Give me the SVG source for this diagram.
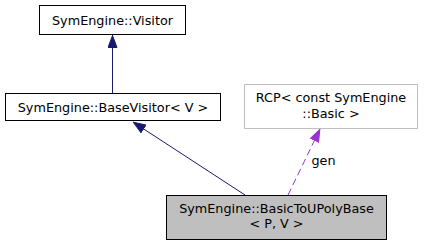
<svg xmlns="http://www.w3.org/2000/svg" width="424" height="246" viewBox="0 0 424 246">
  <style>
    .box { fill: #ffffff; stroke: #000000; stroke-width: 1; }
    .ext { fill: #ffffff; stroke: #bfbfbf; stroke-width: 1; }
    .cur { fill: #bfbfbf; stroke: #000000; stroke-width: 1; }
    text { font-family: "DejaVu Sans", "Noto Sans", sans-serif; font-size: 12.8px; fill: #000000; text-anchor: middle; }
    .inh { stroke: #191970; stroke-width: 1; fill: none; }
    .use { stroke: #9a32cd; stroke-width: 1; fill: none; stroke-dasharray: 7,4; }
  </style>
  <defs>
    <marker id="headInh" markerWidth="13" markerHeight="10" refX="13" refY="5" orient="auto" markerUnits="userSpaceOnUse" viewBox="0 0 13 10">
      <path d="M0.5,0.5 L12.5,5 L0.5,9.5 Z" fill="#191970" stroke="#191970"/>
    </marker>
    <marker id="headUse" markerWidth="13" markerHeight="10" refX="13" refY="5" orient="auto" markerUnits="userSpaceOnUse" viewBox="0 0 13 10">
      <path d="M0.5,0.5 L12.5,5 L0.5,9.5 Z" fill="#9a32cd" stroke="#9a32cd"/>
    </marker>
  </defs>

  <g id="connectors">
    <line class="inh" x1="112.5" y1="93" x2="112.5" y2="35" marker-end="url(#headInh)"/>
    <line class="inh" x1="245" y1="195" x2="133" y2="122" marker-end="url(#headInh)"/>
    <line class="use" x1="288" y1="195" x2="320" y2="129" marker-end="url(#headUse)"/>
    <text x="323.5" y="165">gen</text>
  </g>

  <g id="node-visitor">
    <rect class="box" x="39.5" y="5.5" width="146" height="29"/>
    <text x="112.5" y="24.5">SymEngine::Visitor</text>
  </g>

  <g id="node-basevisitor">
    <rect class="box" x="5.5" y="93.5" width="215" height="27"/>
    <text x="113" y="111.5">SymEngine::BaseVisitor&lt; V &gt;</text>
  </g>

  <g id="node-rcp">
    <rect class="ext" x="244.5" y="84.5" width="173" height="44"/>
    <text x="331" y="102">RCP&lt; const SymEngine</text>
    <text x="331" y="118">::Basic &gt;</text>
  </g>

  <g id="node-basictoupolybase">
    <rect class="cur" x="166.5" y="195.5" width="220" height="44"/>
    <text x="276.5" y="213">SymEngine::BasicToUPolyBase</text>
    <text x="276.5" y="228">&lt; P, V &gt;</text>
  </g>
</svg>
